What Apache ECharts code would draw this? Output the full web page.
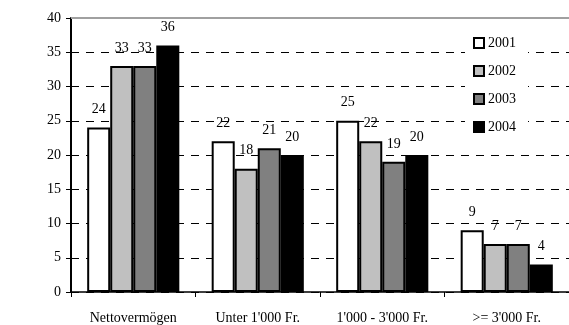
<!DOCTYPE html>
<html>
<head>
<meta charset="utf-8">
<script src="https://cdn.jsdelivr.net/npm/echarts@6/dist/echarts.min.js"></script>
<style>
html,body{margin:0;padding:0;background:#fff;}
#chart{width:569px;height:325px;}
</style>
</head>
<body>
<div id="chart"></div>
<script>
const categories = ['Nettovermögen', "Unter 1'000 Fr.", "1'000 - 3'000 Fr.", ">= 3'000 Fr."];
const years = ['2001', '2002', '2003', '2004'];
const s2001 = [24, 22, 25, 9];
const s2002 = [33, 18, 22, 7];
const s2003 = [33, 21, 19, 7];
const s2004 = [36, 20, 20, 4];
const yTicks = { min: 0, max: 40, interval: 5 };

const font = "'Liberation Serif', 'Times New Roman', serif";
const fills = ['#ffffff', '#c0c0c0', '#808080', '#000000'];
const seriesData = [s2001, s2002, s2003, s2004];

const chart = echarts.init(document.getElementById('chart'), null, { renderer: 'canvas' });

const series = seriesData.map((d, i) => ({
  name: years[i],
  type: 'bar',
  data: d,
  barGap: '0%',
  barCategoryGap: '26%',
  itemStyle: { color: fills[i], borderColor: '#000', borderWidth: 2 },
  label: {
    show: true, position: 'top', distance: 11,
    color: '#000', fontFamily: font, fontSize: 14
  },
  animation: false
}));
series[0].markLine = {
  silent: true,
  symbol: 'none',
  label: { show: false },
  lineStyle: { color: '#a0a0a0', width: 2, type: 'solid' },
  data: [{ yAxis: 40 }],
  animation: false
};

chart.setOption({
  animation: false,
  backgroundColor: '#fff',
  grid: { left: 71, right: -5, top: 18, bottom: 26, containLabel: false },
  legend: {
    orient: 'vertical',
    left: 465, top: 30,
    padding: [6, 12, 6, 8],
    backgroundColor: '#fff',
    icon: 'rect',
    itemWidth: 10, itemHeight: 10, itemGap: 14,
    textStyle: { fontFamily: font, fontSize: 14, color: '#000', padding: [0, 0, 0, -1] },
    data: years
  },
  xAxis: {
    type: 'category',
    data: categories,
    axisLine: { lineStyle: { color: '#000', width: 1.5 } },
    axisTick: { show: true, length: 5, lineStyle: { color: '#000' } },
    axisLabel: { color: '#000', fontFamily: font, fontSize: 14, margin: 19, interval: 0 }
  },
  yAxis: {
    type: 'value',
    min: yTicks.min, max: yTicks.max, interval: yTicks.interval,
    axisLine: { show: true, lineStyle: { color: '#000', width: 2 } },
    axisTick: { show: true, length: 5, lineStyle: { color: '#000' } },
    axisLabel: { color: '#000', fontFamily: font, fontSize: 14, margin: 10 },
    splitLine: { show: true, lineStyle: { color: '#000', width: 1, type: [8, 7] } }
  },
  series: series
});
</script>
</body>
</html>
